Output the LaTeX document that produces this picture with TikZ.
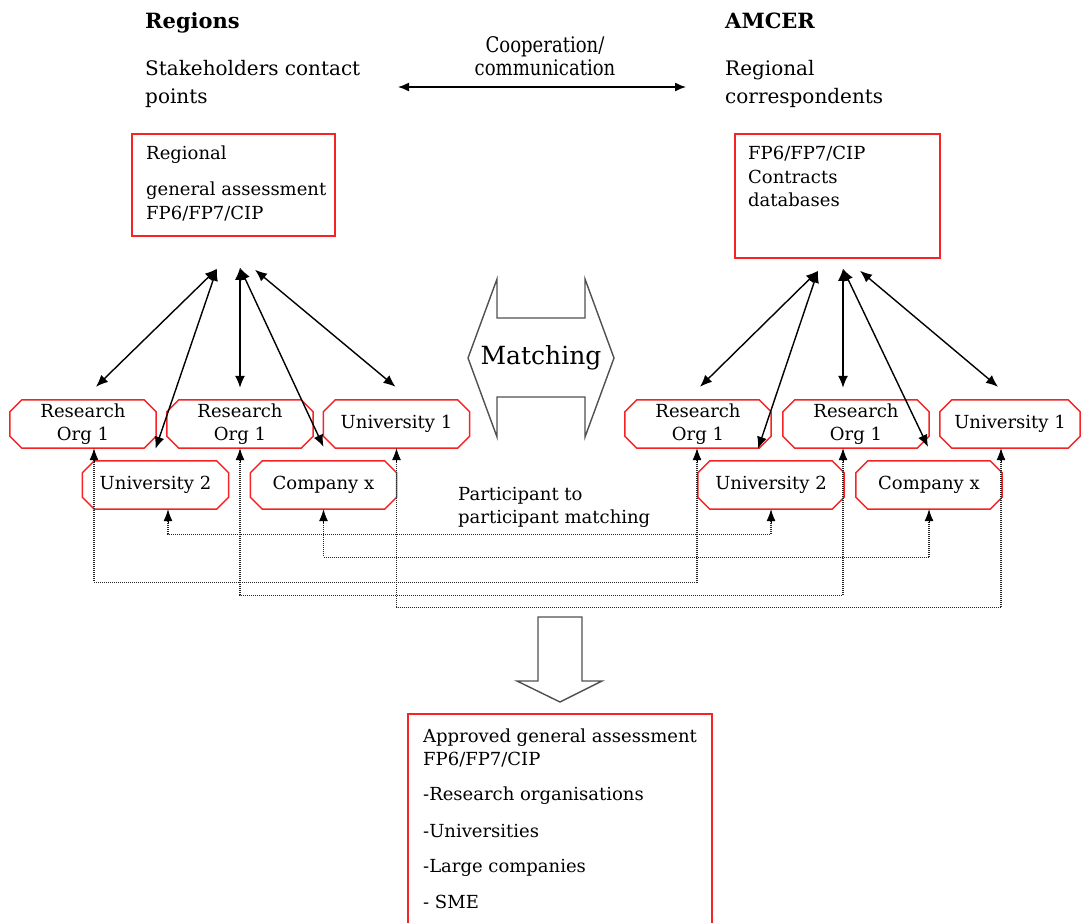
\documentclass[tikz,border=0pt]{standalone}
\usepackage{fontspec}
\setmainfont{DejaVu Serif}
\newfontfamily\condfont{DejaVu Serif}[FakeStretch=0.84]
\usetikzlibrary{arrows.meta,calc}
\definecolor{rl}{RGB}{245,35,35}
\definecolor{gl}{RGB}{80,80,80}
\newcommand\octa[2][12]{\draw[redline] ($(#2.north west)+(#1,0)$) -- ($(#2.north east)+(-#1,0)$) -- ($(#2.north east)+(0,#1)$) -- ($(#2.south east)+(0,-#1)$) -- ($(#2.south east)+(-#1,0)$) -- ($(#2.south west)+(#1,0)$) -- ($(#2.south west)+(0,-#1)$) -- ($(#2.north west)+(0,#1)$) -- cycle;}
\newcommand\dtip[1]{\draw[tipa] ($(#1)+(0,14)$) -- (#1);}
\begin{document}
\begin{tikzpicture}[x=1pt,y=-1pt,
  txt/.style={inner sep=0pt,anchor=base west,font=\fontsize{18}{22}\selectfont},
  head/.style={inner sep=0pt,anchor=base west,font=\fontsize{20}{24}\selectfont},
  redline/.style={draw=rl,line width=1.5pt},
  oct/.style={minimum width=146pt,minimum height=48pt,inner sep=0pt,align=center,font=\fontsize{18}{23}\selectfont},
  rbox/.style={redline,inner sep=0pt},
  arr/.style={line width=1.4pt,arrows={Latex[length=12pt,width=10pt]-Latex[length=12pt,width=10pt]}},
  dotc/.style={draw=black!85,line width=1.1pt,dash pattern=on 1pt off 1pt},
  tipa/.style={draw=black,line width=0.8pt,arrows={-Latex[length=12pt,width=9pt]}},
  hollow/.style={draw=gl,line width=1.4pt,line join=miter}]
\useasboundingbox (0,0) rectangle (1081,922);
\fill[white] (0,0) rectangle (1081,922);

% headings
\node[head,font=\fontsize{21}{24}\selectfont\bfseries] (hReg) at (145,28) {Regions};
\node[head] (hSt1) at (145,75) {Stakeholders contact};
\node[head] (hSt2) at (145,103) {points};
\node[head,font=\fontsize{21}{24}\selectfont\bfseries] (hAm) at (725,28) {AMCER};
\node[head] (hRc1) at (725,75) {Regional};
\node[head] (hRc2) at (725,103) {correspondents};
\node[inner sep=0pt,anchor=base,font=\fontsize{21.5}{24}\condfont] (coop1) at (545,52) {Cooperation/};
\node[inner sep=0pt,anchor=base,font=\fontsize{21.5}{24}\condfont] (coop2) at (545,75) {communication};
\coordinate (cL) at (398,87);
\coordinate (cR) at (686,87);
\draw[arr,arrows={Latex[length=11pt,width=9pt]-Latex[length=11pt,width=9pt]}] (cL) -- (cR);

% top boxes
\node[rbox,minimum width=203pt,minimum height=102pt] (boxL) at (233.5,185) {};
\node[txt] (bl1) at (146,159) {Regional};
\node[txt] (bl2) at (146,195) {general assessment};
\node[txt] (bl3) at (146,219) {FP6/FP7/CIP};
\node[rbox,minimum width=205pt,minimum height=124pt] (boxR) at (837.5,196) {};
\node[txt] (br1) at (748,159) {FP6/FP7/CIP};
\node[txt] (br2) at (748,183) {Contracts};
\node[txt] (br3) at (748,206) {databases};

% octagon nodes left
\node[oct] (roL1) at (83,424) {Research\\Org 1};
\node[oct] (roL2) at (240,424) {Research\\Org 1};
\node[oct] (unL1) at (396.5,424) {University 1};
\node[oct] (u2L) at (155.5,485) {University 2};
\node[oct] (coL) at (323.5,485) {Company x};
% octagon nodes right
\node[oct] (roR1) at (698,424) {Research\\Org 1};
\node[oct] (roR2) at (856,424) {Research\\Org 1};
\node[oct,minimum width=140pt] (unR1) at (1010,424) {University 1};
\node[oct] (u2R) at (771,485) {University 2};
\node[oct] (coR) at (929,485) {Company x};
\foreach \n in {roL1,roL2,unL1,u2L,coL,roR1,roR2,unR1,u2R,coR} {\octa{\n}}

% matching shape
\node[inner sep=0pt,font=\fontsize{25}{30}\selectfont] (match) at (541,358) {Matching};
\draw[hollow] (468,358) -- (497,279) -- (497,318) -- (585,318) -- (585,279) -- (614,358) -- (585,437) -- (585,397) -- (497,397) -- (497,437) -- cycle;

% solid arrows left
\coordinate (pL1) at ($(boxL.south)+(-16.5,32)$);
\coordinate (pL2) at ($(boxL.south)+(6.5,31)$);
\coordinate (pL3) at ($(boxL.south)+(21.5,33)$);
\draw[arr] (pL1) -- ($(roL1.north)+(13,-13)$);
\draw[arr] (pL1) -- ($(u2L.north)+(0,-12)$);
\draw[arr] (pL2) -- ($(roL2.north)+(0,-12)$);
\draw[arr] (pL2) -- ($(coL.north)+(0,-14)$);
\draw[arr] (pL3) -- ($(unL1.north)+(-1,-13)$);
% solid arrows right
\coordinate (pR1) at ($(boxR.south)+(-19.5,12)$);
\coordinate (pR2) at ($(boxR.south)+(5.5,10)$);
\coordinate (pR3) at ($(boxR.south)+(22.5,12)$);
\draw[arr] (pR1) -- ($(roR1.north)+(2,-13)$);
\draw[arr] (pR1) -- ($(u2R.north)+(-13,-12)$);
\draw[arr] (pR2) -- ($(roR2.north)+(-13,-12)$);
\draw[arr] (pR2) -- ($(coR.north)+(-1,-14)$);
\draw[arr] (pR3) -- ($(unR1.north)+(-12,-13)$);

% participant text
\node[txt] (pt1) at (458,500) {Participant to};
\node[txt] (pt2) at (458,523) {participant matching};

% dotted connector end points
\coordinate (dU2a) at ([xshift=12.5pt]u2L.south);
\coordinate (dU2b) at (u2R.south);
\coordinate (dCoa) at (coL.south);
\coordinate (dCob) at (coR.south);
\coordinate (dR1a) at ([xshift=11pt]roL1.south);
\coordinate (dR1b) at ([xshift=-1pt]roR1.south);
\coordinate (dR2a) at (roL2.south);
\coordinate (dR2b) at ([xshift=-13pt]roR2.south);
\coordinate (dUn1a) at (unL1.south);
\coordinate (dUn1b) at ([xshift=-9pt]unR1.south);
% dotted connectors
\draw[dotc] ($(dU2a)+(0,12)$) |- ($(dU2a)+(0,25)$) -| ($(dU2b)+(0,12)$);
\draw[dotc] ($(dCoa)+(0,12)$) |- ($(dCoa)+(0,48)$) -| ($(dCob)+(0,12)$);
\draw[dotc] ($(dR1a)+(0,12)$) |- ($(dR1a)+(0,134)$) -| ($(dR1b)+(0,12)$);
\draw[dotc] ($(dR2a)+(0,12)$) |- ($(dR2a)+(0,147)$) -| ($(dR2b)+(0,12)$);
\draw[dotc] ($(dUn1a)+(0,12)$) |- ($(dUn1a)+(0,159)$) -| ($(dUn1b)+(0,12)$);
\foreach \c in {dU2a,dU2b,dCoa,dCob,dR1a,dR1b,dR2a,dR2b,dUn1a,dUn1b} {\dtip{\c}}

% big down arrow
\draw[hollow] (538,617) -- (582,617) -- (582,681) -- (602,681) -- (560,702) -- (517,681) -- (538,681) -- cycle;

% bottom box
\draw[redline] (408,930) -- (408,714) -- (712,714) -- (712,930);
\node[txt] (bb1) at (423,742) {Approved general assessment};
\node[txt] (bb2) at (423,765) {FP6/FP7/CIP};
\node[txt] (bb3) at (423,800) {-Research organisations};
\node[txt] (bb4) at (423,837) {-Universities};
\node[txt] (bb5) at (423,872) {-Large companies};
\node[txt] (bb6) at (423,908) {- SME};
\end{tikzpicture}
\end{document}
